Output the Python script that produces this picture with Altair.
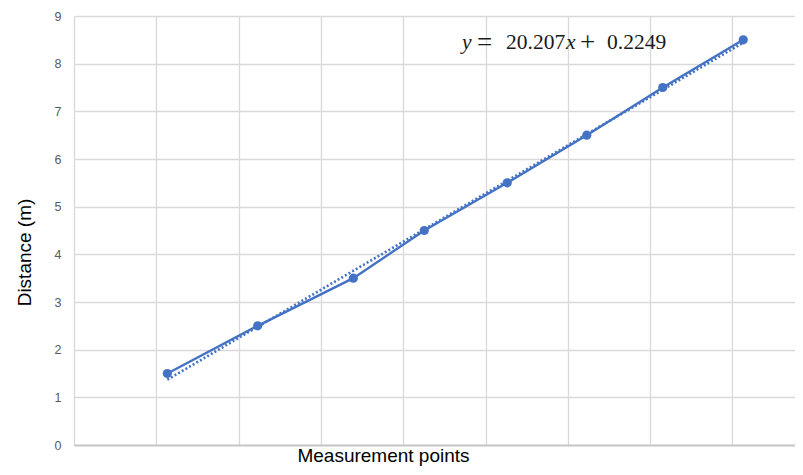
import altair as alt
import pandas as pd

# Data
point_x = [0.0567, 0.1116, 0.1697, 0.2128, 0.2632, 0.3115, 0.3577, 0.4066]
distance = [1.5, 2.5, 3.5, 4.5, 5.5, 6.5, 7.5, 8.5]
slope = 20.207
intercept = 0.2249
y_ticks = [0, 1, 2, 3, 4, 5, 6, 7, 8, 9]
x_grid = [0, 0.05, 0.1, 0.15, 0.2, 0.25, 0.3, 0.35, 0.4]

BLUE = "#4472C4"

pts = pd.DataFrame({"x": point_x, "y": distance})
trend_x = [min(point_x), max(point_x)]
trend = pd.DataFrame({"x": trend_x, "y": [slope * v + intercept for v in trend_x]})

xscale = alt.Scale(domain=[0, 0.43803], nice=False, zero=False)
yscale = alt.Scale(domain=[0, 9], nice=False)

xenc = alt.X("x:Q", scale=xscale,
             axis=alt.Axis(values=x_grid, labels=False, ticks=False, grid=True,
                           gridColor="#d9d9d9", gridWidth=1.3,
                           domain=True, domainColor="#c8c8c8", domainWidth=2,
                           title="Measurement points", titleFont="Liberation Sans",
                           titleFontSize=19, titleFontWeight="normal", titleColor="#000000",
                           titleX=309, titleY=16, titleAlign="center",
                           titleBaseline="alphabetic"))
yenc = alt.Y("y:Q", scale=yscale,
             axis=alt.Axis(values=y_ticks, grid=True, gridColor="#d9d9d9", gridWidth=1.3,
                           domain=False, ticks=False, labelPadding=13,
                           labelFont="Liberation Sans", labelFontSize=12.5,
                           labelColor="#595959",
                           title="Distance (m)", titleFont="Liberation Sans",
                           titleFontSize=19, titleFontWeight="normal", titleColor="#000000",
                           titleX=-50, titleY=236, titleAngle=-90, titleAlign="center",
                           titleBaseline="middle"))

line = alt.Chart(pts).mark_line(color=BLUE, strokeWidth=2.4).encode(x=xenc, y=yenc)
dots = alt.Chart(pts).mark_circle(color=BLUE, size=85, opacity=1).encode(x="x:Q", y="y:Q")
trendline = alt.Chart(trend).mark_line(color=BLUE, strokeWidth=2.6,
                                       strokeDash=[2, 2.2]).encode(x="x:Q", y="y:Q")

# Equation annotation pieces (italic variables, upright numbers)
eq_text = ["y", "=", "20.207", "x", "+", "0.2249"]
eq_style = ["italic", "normal", "normal", "italic", "normal", "normal"]
eq_size = [21.5, 27, 21.5, 21.5, 27, 21.5]
eq_base = [33, 34.5, 33, 33, 34.5, 33]
eq_left = [388, 403, 432, 492, 506, 533]
eq_layers = []
for t, s, fs, by, px in zip(eq_text, eq_style, eq_size, eq_base, eq_left):
    eq_layers.append(
        alt.Chart(pd.DataFrame({"t": [t]})).mark_text(
            font="Liberation Serif", fontSize=fs, fontStyle=s, color="#1a1a1a",
            align="left", baseline="alphabetic"
        ).encode(text="t:N", x=alt.value(px), y=alt.value(by))
    )

chart = alt.layer(trendline, line, dots, *eq_layers).properties(
    width=721, height=429,
    autosize=alt.AutoSizeParams(type="none"),
    padding={"left": 66, "top": 8, "right": 0, "bottom": 22},
).configure_view(stroke=None)

chart.save("out.html", embed_options={"renderer": "svg", "actions": False})
